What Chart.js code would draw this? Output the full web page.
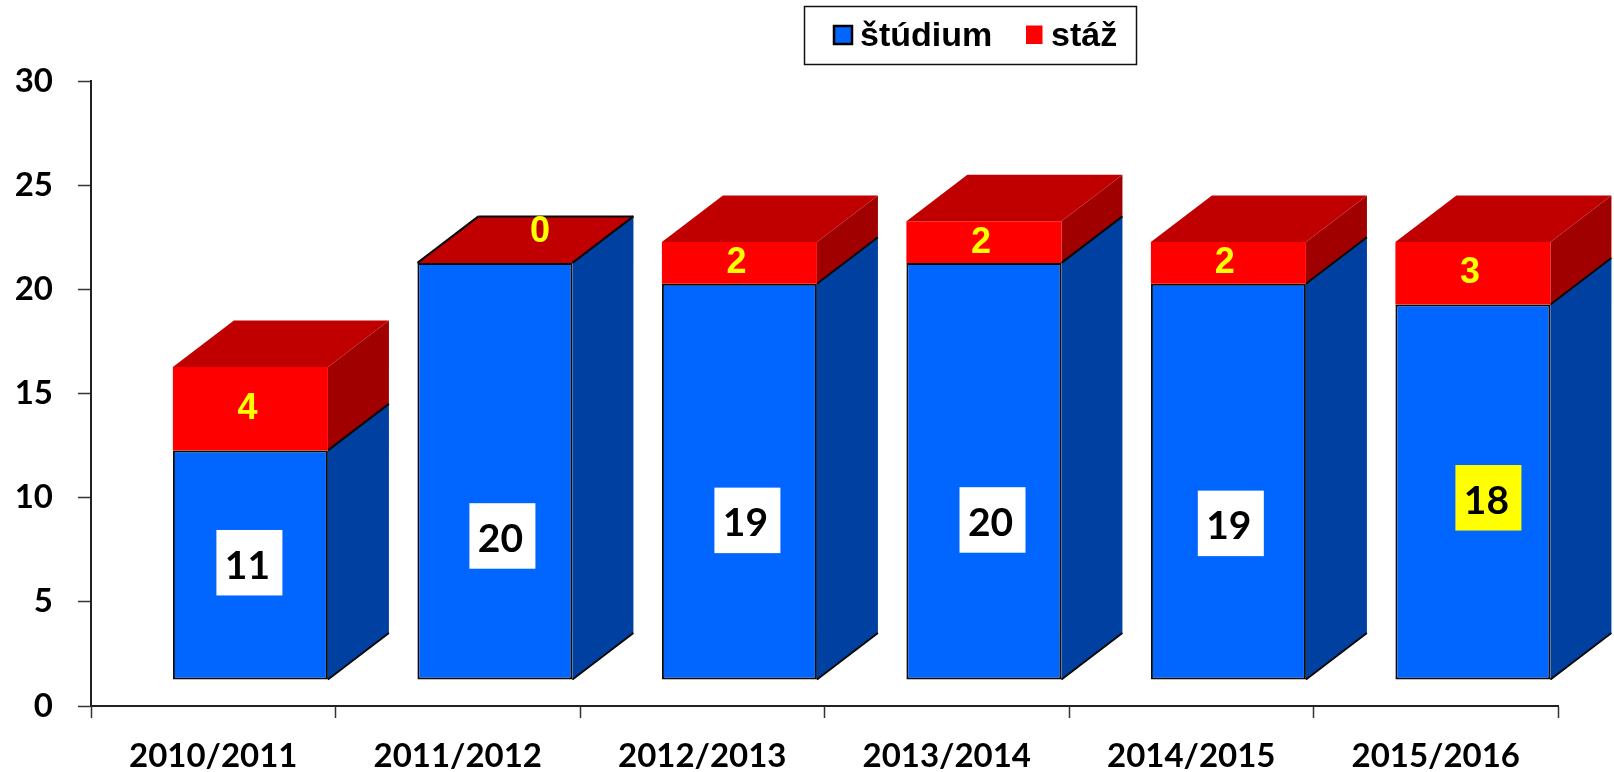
<!DOCTYPE html>
<html>
<head>
<meta charset="utf-8">
<style>html,body{margin:0;padding:0;background:#fff}canvas{display:block}</style>
<script src="https://cdn.jsdelivr.net/npm/chart.js@4"></script>
</head>
<body>
<div style="width:1614px;height:772px;position:relative"><canvas id="c" width="1614" height="772"></canvas></div>
<script>
const categories = ['2010/2011','2011/2012','2012/2013','2013/2014','2014/2015','2015/2016'];
const studium = [11,20,19,20,19,18];
const staz = [4,0,2,2,2,3];
const seriesNames = ['štúdium','stáž'];
const yTicksMax = 30, yTicksStep = 5;

// picture-specific presentation settings
const floorValue = 1.27;           // the 3D floor is raised above the axis zero
const depthX = 61, depthY = 46.5;
const barShift = 0.152;
const studiumLabelOffset = [[-1,-2],[7.5,65],[8,39],[8.6,49],[2.4,42],[15.5,6]];
const stazLabelOffset = [[-2,-2],[46,-33],[-2,-2],[-2,-1],[-2.6,-2],[-2,-2.5]];

let acc = studium.map(v => floorValue + v);
const studiumBars = studium.map((v,i) => ({x:i, y:[floorValue, acc[i]]}));
const stazBars = staz.map((v,i) => ({x:i, y:[acc[i], acc[i] + v]}));

function poly(ctx, pts, fill) {
  ctx.beginPath();
  pts.forEach((p,i) => i ? ctx.lineTo(p[0],p[1]) : ctx.moveTo(p[0],p[1]));
  ctx.closePath();
  ctx.fillStyle = fill;
  ctx.fill();
}
function seg(ctx, a, b) {
  ctx.beginPath(); ctx.moveTo(a[0],a[1]); ctx.lineTo(b[0],b[1]); ctx.stroke();
}

const box3d = {
  id:'box3d',
  beforeDatasetsDraw(chart) {
    const ctx = chart.ctx;
    const blue = chart.getDatasetMeta(0).data, red = chart.getDatasetMeta(1).data;
    ctx.save();
    blue.forEach((b,i) => {
      const r = red[i];
      const right = b.x + b.width/2, left = b.x - b.width/2;
      const yb = b.base, yt = Math.min(b.y,b.base), yr = Math.min(r.y,r.base);
      poly(ctx, [[right,yt],[right+depthX,yt-depthY],[right+depthX,yb-depthY],[right,yb]], '#0040A0');
      if (yr < yt) poly(ctx, [[right,yr],[right+depthX,yr-depthY],[right+depthX,yt-depthY],[right,yt]], '#A00000');
      poly(ctx, [[left,yr],[left+depthX,yr-depthY],[right+depthX,yr-depthY],[right,yr]], '#C00000');
      ctx.strokeStyle = '#0a0a0a'; ctx.lineWidth = 2;
      seg(ctx,[right,yt],[right+depthX,yt-depthY]);
      seg(ctx,[right,yb],[right+depthX,yb-depthY]);
      if (yr === yt) {
        seg(ctx,[left,yt],[left+depthX,yt-depthY]);
        seg(ctx,[left+depthX,yt-depthY],[right+depthX,yt-depthY]);
      }
    });
    ctx.restore();
  },
  afterDatasetsDraw(chart) {
    const ctx = chart.ctx;
    const blue = chart.getDatasetMeta(0).data, red = chart.getDatasetMeta(1).data;
    ctx.save();
    ctx.textAlign = 'center'; ctx.textBaseline = 'middle';
    blue.forEach((b,i) => {
      const cx = b.x + studiumLabelOffset[i][0], cy = (b.y+b.base)/2 + studiumLabelOffset[i][1];
      ctx.fillStyle = i === 5 ? '#FFFF00' : '#FFFFFF';
      ctx.fillRect(cx-33, cy-33, 66, 65.5);
      ctx.fillStyle = '#000';
      ctx.font = 'bold 39px Lato';
      ctx.fillText(String(studium[i]), cx - 2, cy+3);
    });
    red.forEach((r,i) => {
      const cx = r.x + stazLabelOffset[i][0], cy = (r.y+r.base)/2 + stazLabelOffset[i][1];
      ctx.fillStyle = '#FFFF00';
      ctx.font = 'bold 36px "Liberation Sans"';
      ctx.fillText(String(staz[i]), cx - 1, cy+2);
    });
    ctx.restore();
  },
  afterDraw(chart) {
    const ctx = chart.ctx;
    ctx.save();
    ctx.strokeStyle = '#111'; ctx.lineWidth = 1.5;
    ctx.strokeRect(804.5, 6.5, 332, 58);
    ctx.fillStyle = '#0066FF'; ctx.fillRect(834, 26, 18, 18);
    ctx.lineWidth = 2.5; ctx.strokeStyle = '#000'; ctx.strokeRect(834, 26, 18, 18);
    ctx.fillStyle = '#FF0000'; ctx.fillRect(1026, 25.5, 16.5, 18.5);
    ctx.fillStyle = '#000';
    ctx.font = 'bold 34px "Liberation Sans"';
    ctx.textAlign = 'left'; ctx.textBaseline = 'alphabetic';
    ctx.fillText(seriesNames[0], 860, 46);
    ctx.fillText(seriesNames[1], 1051, 46);
    ctx.restore();
  }
};

new Chart(document.getElementById('c'), {
  type:'bar',
  data:{
    labels:categories,
    datasets:[
      {label:seriesNames[0], data:studiumBars, xAxisID:'x2', yAxisID:'y', backgroundColor:'#0066FF', borderColor:'#0a0a0a', borderWidth:2, borderSkipped:false, grouped:false, clip:false, barPercentage:0.634, categoryPercentage:1},
      {label:seriesNames[1], data:stazBars, xAxisID:'x2', yAxisID:'y', backgroundColor:'#FF0000', borderWidth:0, grouped:false, clip:false, barPercentage:0.634, categoryPercentage:1}
    ]
  },
  options:{
    responsive:false, animation:false,
    layout:{padding:{top:81,right:56,bottom:0,left:0}},
    plugins:{legend:{display:false},tooltip:{enabled:false}},
    scales:{
      x:{
        type:'category', offset:true,
        border:{display:true,color:'#222',width:2},
        grid:{display:true,offset:true,drawOnChartArea:false,drawTicks:true,tickLength:12,tickColor:'#333',tickWidth:1.5},
        ticks:{color:'#000',font:{family:'Lato',weight:'bold',size:33},padding:19,maxRotation:0,autoSkip:false},
        afterFit(s){s.height=66;}
      },
      x2:{
        type:'linear',display:false,offset:false,min:-0.5-barShift,max:5.5-barShift,
        afterBuildTicks(s){s.ticks = categories.map((c,i)=>({value:i}));}
      },
      y:{
        min:0,max:yTicksMax,
        border:{display:true,color:'#222',width:2},
        grid:{display:true,drawOnChartArea:false,drawTicks:true,tickLength:13,tickColor:'#333',tickWidth:1.5},
        ticks:{stepSize:yTicksStep,color:'#000',font:{family:'Lato',weight:'bold',size:33},padding:25},
        afterFit(s){s.width=91;}
      }
    }
  },
  plugins:[box3d]
});
</script>
</body>
</html>
